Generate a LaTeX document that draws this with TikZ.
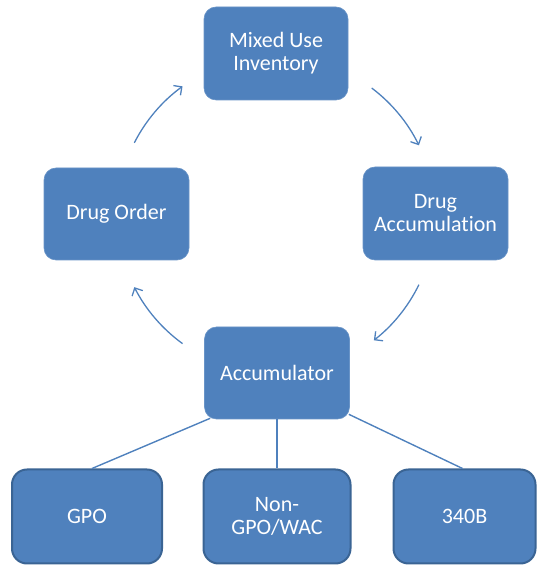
\documentclass[tikz,border=0pt]{standalone}
\usepackage{fontspec}
\setmainfont{Carlito}[Ligatures=NoCommon]
\usetikzlibrary{arrows.meta,calc}
\definecolor{boxblue}{HTML}{4F81BD}
\definecolor{boxedge}{HTML}{3A6494}
\tikzset{
  box/.style={fill=boxblue, draw=boxblue!85!white, line width=0.6pt, rounded corners=12pt,
    text=white, align=center, inner sep=0pt, font=\fontsize{22}{23}\selectfont},
  leafbox/.style={box, draw=boxedge, line width=2pt, rounded corners=15pt},
  cyc/.style={draw=boxblue, line width=1.3pt, -{Straight Barb[length=6pt,width=12pt,line width=1.3pt]}},
  link/.style={draw=boxblue, line width=1.4pt}
}
\begin{document}
\begin{tikzpicture}[x=1pt,y=1pt]
\useasboundingbox (0,0) rectangle (537,565);
\node[box, minimum width=144pt, minimum height=93pt] (mix) at (276,511.5) {Mixed Use\\Inventory};
\node[box, minimum width=145pt, minimum height=92pt] (order) at (116.5,351) {Drug Order};
\node[box, minimum width=145pt, minimum height=93pt] (drugacc) at (435.5,351.5) {Drug\\Accumulation};
\node[box, minimum width=145pt, minimum height=92pt] (accu) at (277,192) {Accumulator};
\node[leafbox, minimum width=150pt, minimum height=94pt] (gpo) at (87,48.5) {GPO};
\node[leafbox, minimum width=147pt, minimum height=94pt] (non) at (277,48.5) {Non-\\GPO/WAC};
\node[leafbox, minimum width=142pt, minimum height=94pt] (b340) at (464.5,48.5) {340B};
\coordinate (cc) at (276,350);
\draw[cyc] ($(cc)+(153:159)$) arc[start angle=153, end angle=126, radius=159];
\draw[cyc] ($(cc)+(53:159)$) arc[start angle=53, end angle=26, radius=159];
\draw[cyc] ($(cc)+(-26:159)$) arc[start angle=-26, end angle=-52, radius=159];
\draw[cyc] ($(cc)+(234:159)$) arc[start angle=234, end angle=207, radius=159];
\draw[link] ($(accu.south west)+(6,1)$) -- ($(gpo.north)+(5,0)$);
\draw[link] (accu.south) -- (non.north);
\draw[link] ($(accu.south east)+(-1,5)$) -- ($(b340.north)+(-2,0)$);
\end{tikzpicture}
\end{document}
